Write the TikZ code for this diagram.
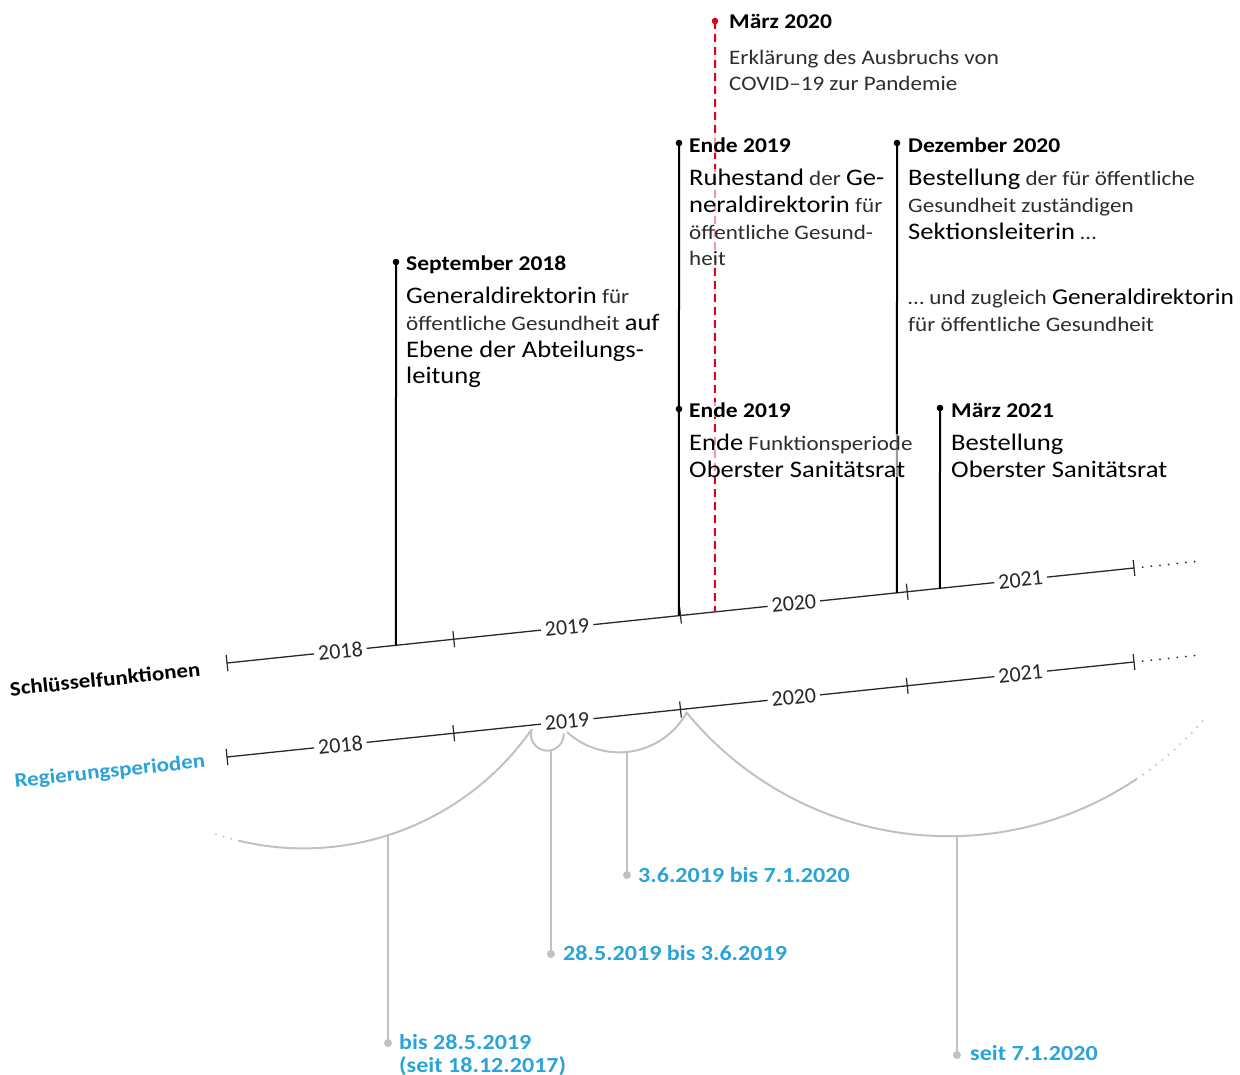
\documentclass[tikz,border=0pt]{standalone}
\usepackage{fontspec}
\setmainfont{Carlito}[FakeStretch=1.12]
\newfontfamily\yearfont{Carlito}
\usetikzlibrary{calc}

\definecolor{covidred}{RGB}{226,0,26}
\definecolor{govblue}{RGB}{41,163,216}
\definecolor{periodgray}{RGB}{190,194,199}
\definecolor{axisgray}{RGB}{40,40,40}
\definecolor{softtext}{RGB}{45,45,45}

% larger, darker words inside the event descriptions
\newcommand\bigw[1]{{\color{black}\fontsize{23.7}{26.7}\selectfont #1}}
\newcommand\bigwn[1]{{\color{black}\fontsize{22.6}{26.7}\selectfont #1}}

\begin{document}
\begin{tikzpicture}[x=1pt,y=-1pt,
  axis/.style={draw=axisgray, line width=1.3pt},
  axisdots/.style={draw=axisgray, line width=2pt, line cap=round, dash pattern=on 0pt off 8.7pt},
  tickmark/.style={draw=axisgray, line width=1.2pt},
  year/.style={font=\yearfont\fontsize{22}{24}\selectfont, text=axisgray, fill=white, inner xsep=4pt, inner ysep=1pt, rotate=6},
  stem/.style={draw=black, line width=2pt},
  covidline/.style={draw=covidred, line width=2pt, dash pattern=on 8pt off 5pt},
  head/.style={font=\bfseries\fontsize{21}{24}\selectfont, anchor=base west, inner sep=0pt, fill=white, fill opacity=0.6, text opacity=1},
  body/.style={font=\fontsize{20.6}{26.7}\selectfont, text=softtext, align=left, anchor=base west, inner sep=0pt, fill=white, fill opacity=0.6, text opacity=1},
  period/.style={draw=periodgray, line width=2pt},
  perioddots/.style={draw=periodgray, line width=2.2pt, line cap=round, dash pattern=on 0pt off 8pt},
  plabel/.style={font=\bfseries\fontsize{21.5}{23}\selectfont, text=govblue, anchor=base west, inner sep=0pt, align=left},
  rowlabel/.style={font=\bfseries\fontsize{20.5}{24}\selectfont, rotate=6, inner sep=0pt},
]
\useasboundingbox (0,0) rectangle (1240,1075);

% ---------- the two year axes ----------
\coordinate (k0) at (227,663);
\coordinate (k4) at (1134,568);
\coordinate (r0) at (227,757);
\coordinate (r4) at (1134,662);
\foreach \i in {1,2,3} {
  \coordinate (k\i) at ($(k0)!\i/4!(k4)$);
  \coordinate (r\i) at ($(r0)!\i/4!(r4)$);
}
\coordinate (kend) at ($(k0)!1.07!(k4)$);
\coordinate (rend) at ($(r0)!1.07!(r4)$);

\draw[axis] (k0) -- (k4);
\draw[axis] (r0) -- (r4);
\draw[axisdots] ($(k4)!8.7pt!(kend)$) -- (kend);
\draw[axisdots] ($(r4)!8.7pt!(rend)$) -- (rend);
\foreach \i in {0,...,4} {
  \draw[tickmark] ($(k\i)+(-0.84,-8)$) -- ($(k\i)+(0.84,8)$);
  \draw[tickmark] ($(r\i)+(-0.84,-8)$) -- ($(r\i)+(0.84,8)$);
}

% ---------- event stems on the upper axis ----------
\coordinate (sep18) at (396,262);   \coordinate (sep18b) at (396,700);
\coordinate (end19) at (679,143);   \coordinate (end19b) at (679,700);
\coordinate (end19m) at (679,409);
\coordinate (mar20) at (715,21);    \coordinate (mar20b) at (715,700);
\coordinate (dec20) at (897,143);   \coordinate (dec20b) at (897,700);
\coordinate (mar21) at (940,408);   \coordinate (mar21b) at (940,700);

\draw[stem] (sep18) -- (intersection of k0--k4 and sep18--sep18b);
\draw[stem] (end19) -- (intersection of k0--k4 and end19--end19b);
\draw[covidline] (mar20) -- (intersection of k0--k4 and mar20--mar20b);
\draw[stem] (dec20) -- (intersection of k0--k4 and dec20--dec20b);
\draw[stem] (mar21) -- (intersection of k0--k4 and mar21--mar21b);

\fill (sep18) circle (3.3);
\fill (end19) circle (3.3);
\fill (end19m) circle (3.3);
\fill[covidred] (mar20) circle (3.3);
\fill (dec20) circle (3.3);
\fill (mar21) circle (3.3);

% ---------- event texts (multi-line nodes sit on the baseline of their last line) ----------
\node[head] (mar20h) at (729,29) {März 2020};
\node[body] (mar20t) at (729,91) {Erklärung des Ausbruchs von\\COVID–19 zur Pandemie};

\node[head] (end19h) at (689,153) {Ende 2019};
\node[body] (end19t) at (689,266) {\bigw{Ruhestand} der \bigw{Ge-}\\\bigw{neraldirektorin} für\\öffentliche Gesund-\\heit};

\node[head] (dec20h) at (908,153) {Dezember 2020};
\node[body] (dec20t) at (908,239.4) {\bigw{Bestellung} der für öffentliche\\Gesundheit zuständigen\\\bigw{Sektionsleiterin} …};
\node[body] (dec20u) at (908,331.5) {… und zugleich \bigwn{Generaldirektorin}\\für öffentliche Gesundheit};

\node[head] (sep18h) at (406,271) {September 2018};
\node[body] (sep18t) at (406,384) {\bigw{Generaldirektorin} für\\öffentliche Gesundheit \bigw{auf}\\\bigw{Ebene der Abteilungs-}\\\bigw{leitung}};

\node[head] (end19mh) at (689,417) {Ende 2019};
\node[body] (end19mt) at (689,477) {\bigw{Ende} Funktionsperiode\\\bigw{Oberster Sanitätsrat}};

\node[head] (mar21h) at (951,417) {März 2021};
\node[body] (mar21t) at (951,477) {\bigw{Bestellung}\\\bigw{Oberster Sanitätsrat}};

% ---------- year labels ----------
\foreach \y [count=\j from 0] in {2018,2019,2020,2021} {
  \node[year] (ky\y) at ($(k0)!{(2*\j+1)/8}!(k4)$) {\y};
  \node[year] (ry\y) at ($(r0)!{(2*\j+1)/8}!(r4)$) {\y};
}

% ---------- row captions ----------
\node[rowlabel] (rowkey) at (105,679) {Schlüsselfunktionen};
\node[rowlabel, text=govblue] (rowgov) at (110,772) {Regierungsperioden};

% ---------- government periods hanging below the lower axis ----------
\coordinate (cuspA) at (531.7,729.3);
\coordinate (cuspB) at (687,713);
\coordinate (p3start) at (567,732);

\draw[period] (cuspA) arc[start angle=34.9, end angle=103.4, radius=278.3] coordinate (p1end);
\draw[perioddots] (p1end) arc[start angle=103.4, end angle=109.1, radius=278.3];
\draw[period] (cuspA) arc[start angle=197.8, end angle=-3.5, radius=16.4];
\draw[period] (p3start) arc[start angle=132.6, end angle=28.4, radius=77.1];
\draw[period] (cuspB) arc[start angle=140.5, end angle=56.2, radius=338.6] coordinate (p4end);
\draw[perioddots] (p4end) arc[start angle=56.2, end angle=41.2, radius=338.6];

\coordinate (p1top) at (388,835);   \coordinate (p1dot) at (388,1043);
\coordinate (p2top) at (551,750);   \coordinate (p2dot) at (551,954);
\coordinate (p3top) at (627,752);   \coordinate (p3dot) at (627,875);
\coordinate (p4top) at (957,837);   \coordinate (p4dot) at (957,1055);

\draw[period] (p1top) -- (p1dot);
\draw[period] (p2top) -- (p2dot);
\draw[period] (p3top) -- (p3dot);
\draw[period] (p4top) -- (p4dot);
\fill[periodgray] (p1dot) circle (4);
\fill[periodgray] (p2dot) circle (4);
\fill[periodgray] (p3dot) circle (4);
\fill[periodgray] (p4dot) circle (4);

\node[plabel] (p1lab) at (399,1072) {bis 28.5.2019\\(seit 18.12.2017)};
\node[plabel] (p2lab) at (563,960) {28.5.2019 bis 3.6.2019};
\node[plabel] (p3lab) at (638,882) {3.6.2019 bis 7.1.2020};
\node[plabel] (p4lab) at (970,1060) {seit 7.1.2020};
\end{tikzpicture}
\end{document}
